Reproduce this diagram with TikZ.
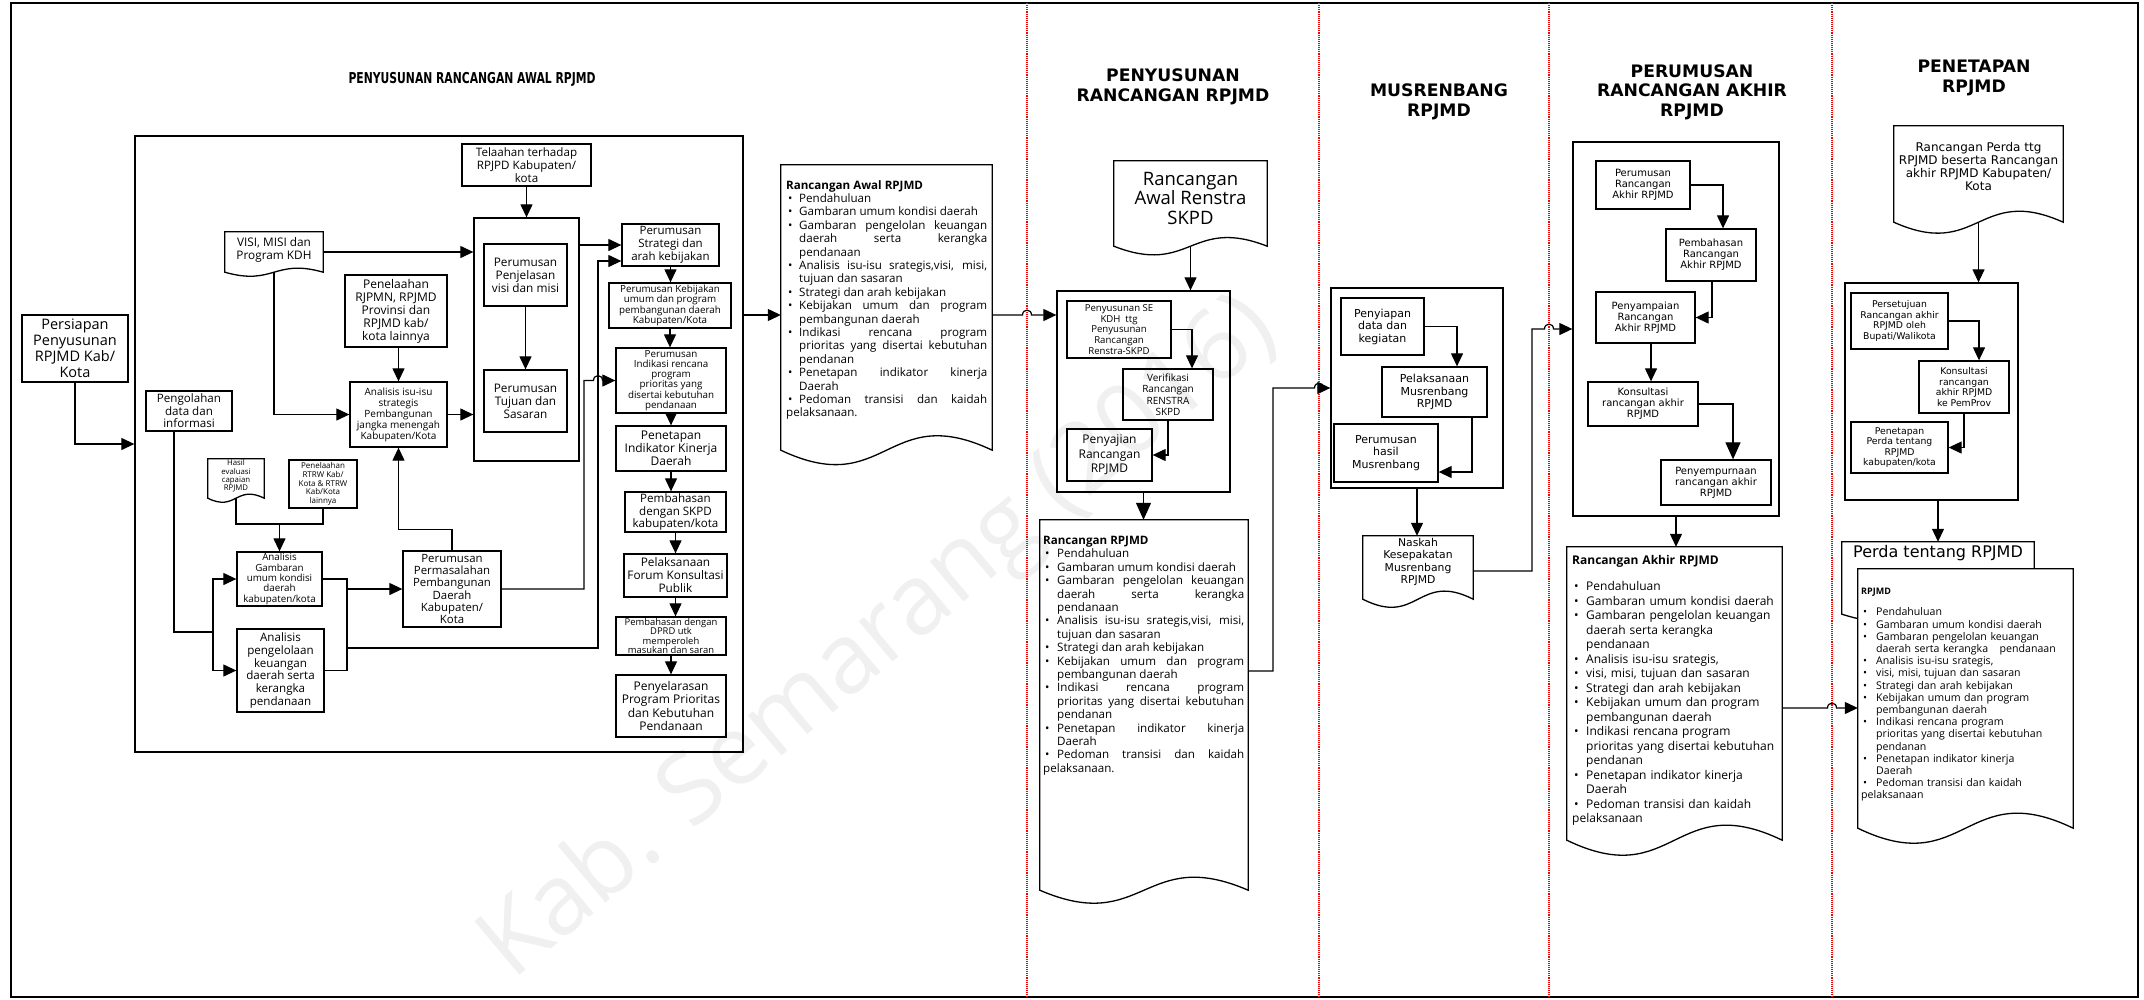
\documentclass[tikz,border=0pt]{standalone}
\usepackage{fontspec}
\setmainfont{Open Sans}
\newfontfamily\vfont{DejaVu Sans}
\usetikzlibrary{arrows.meta,calc}
\newcommand{\wavedoc}[3][]{\draw[line width=1.3pt,#1] (#2.south west) -- (#2.north west) -- (#2.north east) -- (#2.south east) .. controls ($(#2.south)+(0,-#3)$) and ($(#2.south)+(0,#3)$) .. (#2.south west) -- cycle;}
\newcommand{\bul}[2][13pt]{\par\hangindent=#1\hangafter=1\noindent\hbox to #1{\hskip2pt\textbullet\hss}#2}
\newcommand{\listsetup}{\parindent=0pt\hyphenpenalty=10000\exhyphenpenalty=10000\tolerance=10000\relax}
\begin{document}
\begin{tikzpicture}[x=1pt,y=-1pt,
  bx/.style={draw, line width=1.3pt, inner sep=0pt, align=center},
  cont/.style={draw, line width=1.3pt, inner sep=0pt},
  docn/.style={inner sep=0pt},
  ln/.style={line width=1.2pt},
  arr/.style={line width=1.2pt, -{Triangle[length=13pt,width=12pt]}},
  arrb/.style={line width=1.2pt, -{Triangle[length=17pt,width=15pt]}},
  fs/.style 2 args={font=\fontsize{#1}{#2}\selectfont},
  vf/.style 2 args={font=\vfont\fontsize{#1}{#2}\selectfont},
  ttl/.style={font=\vfont\bfseries\fontsize{17.2}{19.5}\selectfont, align=center},
  sepline/.style={draw=red, line width=1.1pt, densely dotted},
  txt/.style={inner sep=0pt, align=center}]
\useasboundingbox (0,0) rectangle (2144,999);
% watermark
\node[rotate=40, text=black!6, font=\fontsize{98}{98}\selectfont] (wm) at (880,640) {Kab. Semarang (2016)};
% frame and separators
\draw[line width=1.5pt] (11,3) rectangle (2138,997);
\draw[sepline] (1027,3) -- (1027,997);
\draw[sepline] (1319,3) -- (1319,997);
\draw[sepline] (1549,3) -- (1549,997);
\draw[sepline] (1832,3) -- (1832,997);
% titles
\node[font=\vfont\bfseries\fontsize{15}{17}\selectfont] (t1) at (472,79) {\scalebox{0.72}[1]{PENYUSUNAN RANCANGAN AWAL RPJMD}};
\node[ttl] (t2) at (1173,87) {PENYUSUNAN\\RANCANGAN RPJMD};
\node[ttl] (t3) at (1439,102) {MUSRENBANG\\RPJMD};
\node[ttl] (t4) at (1692,92) {PERUMUSAN\\RANCANGAN AKHIR\\RPJMD};
\node[ttl] (t5) at (1974,78) {PENETAPAN\\RPJMD};

% ---------- column 1 ----------
\node[bx, minimum width=106pt, minimum height=67pt, fs={14.5}{16}] (persiapan) at (75,348.5) {Persiapan\\Penyusunan\\RPJMD Kab/\\Kota};
\node[cont, minimum width=608pt, minimum height=616pt] (big) at (439,444) {};
\node[bx, minimum width=129pt, minimum height=42pt, fs={11.6}{12.8}] (telaah) at (526.5,165) {Telaahan terhadap\\RPJPD Kabupaten/\\kota};
\node[cont, minimum width=105pt, minimum height=243pt] (visibox) at (526.5,339.5) {};
\node[bx, minimum width=83pt, minimum height=62pt, fs={11.8}{13}] (penjelasan) at (525.5,275) {Perumusan\\Penjelasan\\visi dan misi};
\node[bx, minimum width=83pt, minimum height=62pt, fs={11.8}{13}] (tujuan) at (525.5,401) {Perumusan\\Tujuan dan\\Sasaran};
\node[docn, minimum width=98pt, minimum height=40pt] (visi) at (274,252) {};
\wavedoc{visi}{14}
\node[txt, fs={11.8}{13}] (visiT) at (274,249.5) {VISI, MISI dan\\Program KDH};
\node[bx, minimum width=102pt, minimum height=72pt, fs={12}{13}] (rjpmn) at (396,311) {Penelaahan\\RJPMN, RPJMD\\Provinsi dan\\RPJMD kab/\\kota lainnya};
\node[bx, minimum width=97pt, minimum height=65pt, fs={10}{11}] (isu) at (398.5,414.5) {Analisis isu-isu\\strategis\\Pembangunan\\jangka menengah\\Kabupaten/Kota};
\node[bx, minimum width=86pt, minimum height=40pt, fs={11.6}{12.5}] (olah) at (189,411) {Pengolahan\\data dan\\informasi};
\node[docn, minimum width=56pt, minimum height=39pt] (hasil) at (236,478.5) {};
\wavedoc{hasil}{14}
\node[txt, fs={7.8}{8.2}] (hasilT) at (236,476) {Hasil\\evaluasi\\capaian\\RPJMD};
\node[bx, minimum width=68pt, minimum height=48pt, fs={8}{8.6}] (rtrw) at (323,484) {Penelaahan\\RTRW Kab/\\Kota \& RTRW\\Kab/Kota\\lainnya};
\node[bx, minimum width=85pt, minimum height=54pt, fs={9.8}{10.4}] (gambaran) at (279.5,579) {Analisis\\Gambaran\\umum kondisi\\daerah\\kabupaten/kota};
\node[bx, minimum width=87pt, minimum height=83pt, fs={11.6}{12.8}] (kelola) at (280.5,670.5) {Analisis\\pengelolaan\\keuangan\\daerah serta\\kerangka\\pendanaan};
\node[bx, minimum width=98pt, minimum height=76pt, fs={11.4}{12.3}] (masalah) at (452,589) {Perumusan\\Permasalahan\\Pembangunan\\Daerah\\Kabupaten/\\Kota};
\node[bx, minimum width=97pt, minimum height=42pt, fs={11.5}{12.8}] (strategi) at (670.5,245) {Perumusan\\Strategi dan\\arah kebijakan};
\node[bx, minimum width=122pt, minimum height=45pt, fs={9.8}{10.6}] (kebijakan) at (670,305.5) {Perumusan Kebijakan\\umum dan program\\pembangunan daerah\\Kabupaten/Kota};
\node[bx, minimum width=110pt, minimum height=65pt, fs={9.8}{10.2}] (indikasi) at (671,380.5) {Perumusan\\Indikasi rencana\\program\\prioritas yang\\disertai kebutuhan\\pendanaan};
\node[bx, minimum width=110pt, minimum height=45pt, fs={12}{13}] (penetapan) at (671,448.5) {Penetapan\\Indikator Kinerja\\Daerah};
\node[bx, minimum width=101pt, minimum height=40pt, fs={11.6}{12.5}] (bahas) at (675.5,512) {Pembahasan\\dengan SKPD\\kabupaten/kota};
\node[bx, minimum width=103pt, minimum height=43pt, fs={11.8}{13}] (forum) at (675.5,575.5) {Pelaksanaan\\Forum Konsultasi\\Publik};
\node[bx, minimum width=110pt, minimum height=38pt, fs={9.4}{9.6}] (dprd) at (671,636) {Pembahasan dengan\\DPRD utk\\memperoleh\\masukan dan saran};
\node[bx, minimum width=110pt, minimum height=62pt, fs={12}{13.5}] (selaras) at (671,706) {Penyelarasan\\Program Prioritas\\dan Kebutuhan\\Pendanaan};
\node[docn, minimum width=211pt, minimum height=285pt] (rawal) at (886.5,307.5) {};
\wavedoc{rawal}{50}
\node[anchor=north west, inner sep=0pt, text width=201pt, align=justify, fs={11.6}{13.4}] (rawalT) at (786,180) {\listsetup\textbf{Rancangan Awal RPJMD}%
\bul{Pendahuluan}%
\bul{Gambaran umum kondisi daerah}%
\bul{Gambaran pengelolan keuangan\linebreak daerah serta kerangka\linebreak pendanaan}%
\bul{Analisis isu-isu srategis,visi, misi,\linebreak tujuan dan sasaran}%
\bul{Strategi dan arah kebijakan}%
\bul{Kebijakan umum dan program\linebreak pembangunan daerah}%
\bul{Indikasi rencana program\linebreak prioritas yang disertai kebutuhan\linebreak pendanan}%
\bul{Penetapan indikator kinerja\linebreak Daerah}%
\bul{Pedoman transisi dan kaidah\linebreak pelaksanaan.}};

% connectors column 1
\draw[arr] (persiapan.south) |- (big.west);
\draw[arr] (telaah.south) -- (telaah.south |- visibox.north);
\draw[arr] (penjelasan.south) -- (tujuan.north);
\draw[arr] (visi.east) -- (visi.east -| visibox.west);
\draw[arr] (visi.south) |- (isu.west);
\coordinate (rj) at ([xshift=2.5pt]rjpmn.south);
\draw[arr] (rj) -- (rj |- isu.north);
\draw[arr] (isu.east) -- (isu.east -| visibox.west);
\coordinate (j1) at (213,632);
\coordinate (ol) at ([xshift=-15pt]olah.south);
\draw[ln] (ol) |- (j1);
\draw[arr] (j1) |- (gambaran.west);
\draw[arr] (j1) |- (kelola.west);
\coordinate (j2) at (279.5,524);
\draw[ln] (hasil.south) |- (j2);
\draw[ln] (rtrw.south) |- (j2);
\draw[arr] (j2) -- (gambaran.north);
\coordinate (j3) at (347,589);
\coordinate (j4) at (347,648);
\draw[ln] (gambaran.east) -| (j3);
\draw[ln] (kelola.east) -| (j3);
\draw[arr] (j3) -- (masalah.west);
\draw[arr] (masalah.north) -- ++(0,-21) -| (isu.south);
\coordinate (pa) at (584,380.5);
\coordinate (h5) at (598,380.5);
\draw[arr] (masalah.east) -| (pa) -- ([xshift=-4.5pt]h5) .. controls ([xshift=-4.5pt,yshift=6.5pt]h5) and ([xshift=4.5pt,yshift=6.5pt]h5) .. ([xshift=4.5pt]h5) -- (indikasi.west);
\coordinate (pb) at (598,261);
\coordinate (st) at ([yshift=-16pt]strategi.west);
\draw[arr] (j4) -| (pb) -- (st);
\draw[arr] (visibox.east |- strategi.west) -- (strategi.west);
\draw[arr] (strategi.south) -- (strategi.south |- kebijakan.north);
\draw[arr] (kebijakan.south) -- (kebijakan.south |- indikasi.north);
\draw[arr] (indikasi.south) -- (indikasi.south |- penetapan.north);
\draw[arr] (penetapan.south) -- (penetapan.south |- bahas.north);
\draw[arr] (bahas.south) -- (bahas.south |- forum.north);
\draw[arr] (forum.south) -- (forum.south |- dprd.north);
\draw[arr] (dprd.south) -- (dprd.south |- selaras.north);
\coordinate (r0) at ([yshift=-7.5pt]rawal.west);
\draw[arr] (r0 -| big.east) -- (r0);

% ---------- column 2 ----------
\node[docn, minimum width=153pt, minimum height=85pt] (renstra) at (1190.5,203.5) {};
\wavedoc{renstra}{30}
\node[txt, fs={18.5}{19.5}] (renstraT) at (1190.5,198) {Rancangan\\Awal Renstra\\SKPD};
\node[cont, minimum width=173pt, minimum height=201pt] (cont2) at (1143.5,391.5) {};
\node[bx, minimum width=104pt, minimum height=57pt, fs={9.6}{10.8}] (se) at (1119,329.5) {Penyusunan SE\\KDH~~ttg\\Penyusunan\\Rancangan\\Renstra-SKPD};
\node[bx, minimum width=90pt, minimum height=51pt, fs={10}{11.5}] (verif) at (1168,394.5) {Verifikasi\\Rancangan\\RENSTRA\\SKPD};
\node[bx, minimum width=85pt, minimum height=52pt, fs={12}{14.5}] (sajian) at (1109.5,455) {Penyajian\\Rancangan\\RPJMD};
\node[docn, minimum width=208pt, minimum height=370pt] (rrpjmd) at (1144,705) {};
\wavedoc{rrpjmd}{45}
\node[anchor=north west, inner sep=0pt, text width=201pt, align=justify, fs={11.6}{13.4}] (rrpjmdT) at (1043,536) {\listsetup\textbf{Rancangan RPJMD}%
\bul[14pt]{Pendahuluan}%
\bul[14pt]{Gambaran umum kondisi daerah}%
\bul[14pt]{Gambaran pengelolan keuangan\linebreak daerah serta kerangka\linebreak pendanaan}%
\bul[14pt]{Analisis isu-isu srategis,visi, misi,\linebreak tujuan dan sasaran}%
\bul[14pt]{Strategi dan arah kebijakan}%
\bul[14pt]{Kebijakan umum dan program\linebreak pembangunan daerah}%
\bul[14pt]{Indikasi rencana program\linebreak prioritas yang disertai kebutuhan\linebreak pendanan}%
\bul[14pt]{Penetapan indikator kinerja\linebreak Daerah}%
\bul[14pt]{Pedoman transisi dan kaidah\linebreak pelaksanaan.}};
\coordinate (h1) at (1027,315);
\coordinate (r1) at ([yshift=-7.5pt]rawal.east);
\draw[arr] (r1) -- ([xshift=-4.5pt]h1) .. controls ([xshift=-4.5pt,yshift=6.5pt]h1) and ([xshift=4.5pt,yshift=6.5pt]h1) .. ([xshift=4.5pt]h1) -- (h1 -| cont2.west);
\draw[arr] (renstra.south) -- (renstra.south |- cont2.north);
\coordinate (vn) at ([xshift=24pt]verif.north);
\draw[arr] (se.east) -| (vn);
\draw[arr] (verif.south) |- (sajian.east);
\draw[arrb] (cont2.south) -- (cont2.south |- rrpjmd.north);

% ---------- column 3 ----------
\node[cont, minimum width=172pt, minimum height=200pt] (mus) at (1417,388) {};
\node[bx, minimum width=83pt, minimum height=57pt, vf={11}{12.5}] (siap) at (1382.5,326.5) {Penyiapan\\data dan\\kegiatan};
\node[bx, minimum width=105pt, minimum height=50pt, vf={11}{12.3}] (laksana) at (1434.5,392) {Pelaksanaan\\Musrenbang\\RPJMD};
\node[bx, minimum width=104pt, minimum height=58pt, vf={11}{12.3}] (hasilmus) at (1386,453) {Perumusan\\hasil\\Musrenbang};
\node[docn, minimum width=110pt, minimum height=63pt] (naskah) at (1418,567.5) {};
\wavedoc{naskah}{28}
\node[txt, vf={10.8}{12.2}] (naskahT) at (1418,562) {Naskah\\Kesepakatan\\Musrenbang\\RPJMD};
\coordinate (r2) at ([yshift=34pt]rrpjmd.east);
\coordinate (h2v) at (1273,388);
\coordinate (h2) at (1319,388);
\draw[arr] (r2) -| (h2v) -- ([xshift=-4.5pt]h2) .. controls ([xshift=-4.5pt,yshift=6.5pt]h2) and ([xshift=4.5pt,yshift=6.5pt]h2) .. ([xshift=4.5pt]h2) -- (mus.west);
\coordinate (ln1) at ([xshift=22.5pt]laksana.north);
\draw[arr] (siap.east) -| (ln1);
\coordinate (ls) at ([xshift=37.5pt]laksana.south);
\coordinate (he) at ([yshift=-19pt]hasilmus.east);
\draw[arr] (ls) |- (he);
\draw[arr] (mus.south) -- (mus.south |- naskah.north);

% ---------- column 4 ----------
\node[cont, minimum width=206pt, minimum height=374pt] (perum) at (1676,329) {};
\node[bx, minimum width=94pt, minimum height=48pt, vf={10}{11}] (pra) at (1643,185) {Perumusan\\Rancangan\\Akhir RPJMD};
\node[bx, minimum width=90pt, minimum height=52pt, vf={10}{11}] (pbh) at (1711,255) {Pembahasan\\Rancangan\\Akhir RPJMD};
\node[bx, minimum width=99pt, minimum height=51pt, vf={10}{11}] (pyp) at (1645.5,317.5) {Penyampaian\\Rancangan\\Akhir RPJMD};
\node[bx, minimum width=110pt, minimum height=44pt, vf={10}{11}] (kons) at (1643,404) {Konsultasi\\rancangan akhir\\RPJMD};
\node[bx, minimum width=110pt, minimum height=45pt, vf={10}{11}] (pyr) at (1716,482.5) {Penyempurnaan\\rancangan akhir\\RPJMD};
\node[docn, minimum width=215pt, minimum height=293pt] (rakhir) at (1674.5,693.5) {};
\wavedoc{rakhir}{52}
\node[anchor=north west, inner sep=0pt, text width=205pt, align=left, fs={12}{14.5}] (rakhirT) at (1572,555) {\listsetup\textbf{Rancangan Akhir RPJMD}\par\vskip12pt
\bul[14pt]{Pendahuluan}%
\bul[14pt]{Gambaran umum kondisi daerah}%
\bul[14pt]{Gambaran pengelolan keuangan\newline daerah serta kerangka\newline pendanaan}%
\bul[14pt]{Analisis isu-isu srategis,}%
\bul[14pt]{visi, misi, tujuan dan sasaran}%
\bul[14pt]{Strategi dan arah kebijakan}%
\bul[14pt]{Kebijakan umum dan program\newline pembangunan daerah}%
\bul[14pt]{Indikasi rencana program\newline prioritas yang disertai kebutuhan\newline pendanan}%
\bul[14pt]{Penetapan indikator kinerja\newline Daerah}%
\bul[14pt]{Pedoman transisi dan kaidah\newline pelaksanaan}};
\coordinate (h3v) at (1532,329);
\coordinate (h3) at (1549,329);
\coordinate (r3) at ([yshift=-3.5pt]naskah.east);
\draw[arr] (r3) -| (h3v) -- ([xshift=-4.5pt]h3) .. controls ([xshift=-4.5pt,yshift=6.5pt]h3) and ([xshift=4.5pt,yshift=6.5pt]h3) .. ([xshift=4.5pt]h3) -- (perum.west);
\coordinate (pn) at ([xshift=12pt]pbh.north);
\draw[arr] (pra.east) -| (pn);
\coordinate (ps) at ([xshift=1pt]pbh.south);
\draw[arr] (ps) |- (pyp.east);
\coordinate (pys) at ([xshift=5.5pt]pyp.south);
\draw[arr] (pys) -- (pys |- kons.north);
\coordinate (pyn) at ([xshift=17pt]pyr.north);
\draw[arrb] (kons.east) -| (pyn);
\draw[arr] (perum.south) -- (perum.south |- rakhir.north);

% ---------- column 5 ----------
\node[docn, minimum width=169pt, minimum height=96pt] (perdaR) at (1978.5,174) {};
\wavedoc{perdaR}{38}
\node[txt, vf={12}{12.8}] (perdaRT) at (1978.5,166.5) {Rancangan Perda ttg\\RPJMD beserta Rancangan\\akhir RPJMD Kabupaten/\\Kota};
\node[cont, minimum width=173pt, minimum height=217pt] (pen) at (1931.5,391.5) {};
\node[bx, minimum width=97pt, minimum height=56pt, vf={9.3}{10.5}] (setuju) at (1899.5,321) {Persetujuan\\Rancangan akhir\\RPJMD oleh\\Bupati/Walikota};
\node[bx, minimum width=90pt, minimum height=52pt, vf={9.3}{10.5}] (konsprov) at (1964,387) {Konsultasi\\rancangan\\akhir RPJMD\\ke PemProv};
\node[bx, minimum width=97pt, minimum height=51pt, vf={9.3}{10.5}] (tetap) at (1899.5,447.5) {Penetapan\\Perda tentang\\RPJMD\\kabupaten/kota};
\node[docn, minimum width=192pt, minimum height=72pt] (perdaT) at (1938,578) {};
\wavedoc{perdaT}{30}
\node[txt, vf={16}{16}] (perdaTT) at (1938,553) {Perda tentang RPJMD};
\node[docn, minimum width=215pt, minimum height=259pt] (rpjmdF) at (1965.5,698.5) {};
\wavedoc[fill=white]{rpjmdF}{52}
\node[anchor=north west, inner sep=0pt, text width=205pt, align=left, fs={10.6}{12.2}] (rpjmdT) at (1861,588) {\listsetup{\fontsize{9}{10}\selectfont\textbf{RPJMD}\par}\vskip9pt
\bul[15pt]{Pendahuluan}%
\bul[15pt]{Gambaran umum kondisi daerah}%
\bul[15pt]{Gambaran pengelolan keuangan\newline daerah serta kerangka\hspace{8pt} pendanaan}%
\bul[15pt]{Analisis isu-isu srategis,}%
\bul[15pt]{visi, misi, tujuan dan sasaran}%
\bul[15pt]{Strategi dan arah kebijakan}%
\bul[15pt]{Kebijakan umum dan program\newline pembangunan daerah}%
\bul[15pt]{Indikasi rencana program\newline prioritas yang disertai kebutuhan\newline pendanan}%
\bul[15pt]{Penetapan indikator kinerja\newline Daerah}%
\bul[15pt]{Pedoman transisi dan kaidah\newline pelaksanaan}};
\draw[arr] (perdaR.south) -- (perdaR.south |- pen.north);
\coordinate (kn) at ([xshift=15pt]konsprov.north);
\draw[arr] (setuju.east) -| (kn);
\draw[arr] (konsprov.south) |- (tetap.east);
\coordinate (pes) at ([xshift=6.5pt]pen.south);
\draw[arr] (pes) -- (pes |- perdaT.north);
\coordinate (r4) at ([yshift=-14.5pt]rakhir.east);
\coordinate (h4) at (1832,708);
\draw[arr] (r4) -- ([xshift=-4.5pt]h4) .. controls ([xshift=-4.5pt,yshift=6.5pt]h4) and ([xshift=4.5pt,yshift=6.5pt]h4) .. ([xshift=4.5pt]h4) -- (h4 -| rpjmdF.west);
\end{tikzpicture}
\end{document}
